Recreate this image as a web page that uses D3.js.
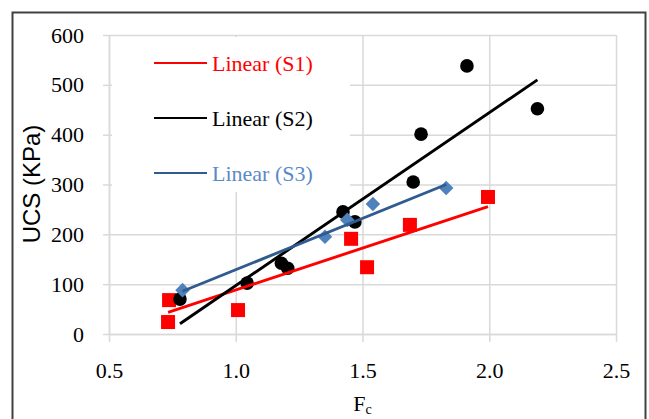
<!DOCTYPE html>
<html lang="en">
<head>
  <meta charset="UTF-8">
  <title>UCS vs Fc</title>
  <script src="https://cdn.jsdelivr.net/npm/d3@7"></script>
  <style>
    body { margin: 0; background: #fff; }
  </style>
</head>
<body>
  <script>
    // data
    const s1x = [0.733, 0.737, 1.009, 1.455, 1.518, 1.687, 1.995];
    const s1y = [24, 68, 48, 191, 134, 219, 275];
    const s2x = [0.78, 1.045, 1.18, 1.205, 1.423, 1.47, 1.70, 1.731, 1.912, 2.19];
    const s2y = [70, 102, 142, 132, 245, 225, 305, 401, 538, 452];
    const s3x = [0.79, 1.352, 1.44, 1.541, 1.83];
    const s3y = [88, 195, 229, 261, 293];

    // linear trendlines (slope, intercept) as shown on the chart
    const trendSlope = [167.8, 347, 206];
    const trendIntercept = [-79.4, -250, -77];

    const seriesNames = ["Linear (S1)", "Linear (S2)", "Linear (S3)"];
    const xTicks = [0.5, 1.0, 1.5, 2.0, 2.5];
    const yTicks = [0, 100, 200, 300, 400, 500, 600];

    const W = 649, H = 419;
    const mLeft = 109, mRight = 616, mTop = 35, mBottom = 334;
    const serif = "'Liberation Serif', 'Times New Roman', serif";

    const svg = d3.select("body").append("svg")
      .attr("width", W)
      .attr("height", H);

    svg.append("rect")
      .attr("x", 12.5).attr("y", 12.5)
      .attr("width", 633).attr("height", 430)
      .attr("fill", "#fff")
      .attr("stroke", "#404040")
      .attr("stroke-width", 2);

    const x = d3.scaleLinear().domain([0.5, 2.5]).range([mLeft, mRight]);
    const y = d3.scaleLinear().domain([0, 600]).range([mBottom, mTop]);

    // gridlines
    svg.append("g")
      .attr("transform", `translate(0,${mBottom})`)
      .call(d3.axisBottom(x).tickValues(xTicks).tickSize(-(mBottom - mTop)).tickFormat(""))
      .call(g => g.select(".domain").remove())
      .call(g => g.selectAll("line").attr("stroke", "#d9d9d9").attr("stroke-width", 1.5));
    svg.append("g")
      .attr("transform", `translate(${mLeft},0)`)
      .call(d3.axisLeft(y).tickValues(yTicks).tickSize(-(mRight - mLeft)).tickFormat(""))
      .call(g => g.select(".domain").remove())
      .call(g => g.selectAll("line").attr("stroke", "#d9d9d9").attr("stroke-width", 1.5));

    // axes
    const xAxis = svg.append("g")
      .attr("transform", `translate(0,${mBottom})`)
      .call(d3.axisBottom(x).tickValues(xTicks).tickSize(8).tickPadding(20).tickSizeOuter(0)
        .tickFormat(d3.format(".1f")));
    const yAxis = svg.append("g")
      .attr("transform", `translate(${mLeft},0)`)
      .call(d3.axisLeft(y).tickValues(yTicks).tickSize(6).tickPadding(19).tickSizeOuter(0));
    [xAxis, yAxis].forEach(a => {
      a.select(".domain").attr("stroke", "#d9d9d9").attr("stroke-width", 1.5);
      a.selectAll("line").attr("stroke", "#d9d9d9").attr("stroke-width", 1.5);
      a.selectAll("text")
        .attr("font-family", serif)
        .attr("font-size", 22)
        .attr("fill", "#000");
    });

    // legend box covers the grid
    svg.append("rect")
      .attr("x", 112).attr("y", 37)
      .attr("width", 238).attr("height", 155)
      .attr("fill", "#fff");

    // markers
    svg.append("g").selectAll("rect")
      .data(s1x.map((d, i) => [d, s1y[i]]))
      .join("rect")
      .attr("x", d => x(d[0]) - 7)
      .attr("y", d => y(d[1]) - 7)
      .attr("width", 14).attr("height", 14)
      .attr("fill", "#ff0000");

    svg.append("g").selectAll("circle")
      .data(s2x.map((d, i) => [d, s2y[i]]))
      .join("circle")
      .attr("cx", d => x(d[0]))
      .attr("cy", d => y(d[1]))
      .attr("r", 6.8)
      .attr("fill", "#000");

    const diamond = d3.symbol().type(d3.symbolDiamond2).size(135);
    svg.append("g").selectAll("path")
      .data(s3x.map((d, i) => [d, s3y[i]]))
      .join("path")
      .attr("d", diamond)
      .attr("transform", d => `translate(${x(d[0])},${y(d[1])})`)
      .attr("fill", "#4f81bd");

    // trendlines over the markers
    const lineColors = ["#ff0000", "#000000", "#2f5b8f"];
    const textColors = ["#ff0000", "#000000", "#5a8ac6"];
    const xs = [s1x, s2x, s3x];
    const line = d3.line().x(d => x(d[0])).y(d => y(d[1]));
    xs.forEach((arr, i) => {
      const ext = d3.extent(arr);
      svg.append("path")
        .attr("d", line(ext.map(v => [v, trendSlope[i] * v + trendIntercept[i]])))
        .attr("fill", "none")
        .attr("stroke", lineColors[i])
        .attr("stroke-width", 2.9);
    });

    // legend
    const legendY = [63, 118, 173];
    seriesNames.forEach((name, i) => {
      svg.append("line")
        .attr("x1", 154).attr("x2", 207)
        .attr("y1", legendY[i]).attr("y2", legendY[i])
        .attr("stroke", lineColors[i])
        .attr("stroke-width", 2);
      svg.append("text")
        .attr("x", 212).attr("y", legendY[i])
        .attr("dy", "0.35em")
        .attr("font-family", serif)
        .attr("font-size", 22)
        .attr("fill", textColors[i])
        .text(name);
    });

    // axis titles
    const xTitle = svg.append("text")
      .attr("x", (mLeft + mRight) / 2)
      .attr("y", 411)
      .attr("text-anchor", "middle")
      .attr("font-family", serif)
      .attr("font-size", 22)
      .attr("fill", "#000");
    xTitle.append("tspan").text("F");
    xTitle.append("tspan").attr("font-size", 14).attr("dy", 3).text("c");

    svg.append("text")
      .attr("transform", `translate(40,184) rotate(-90)`)
      .attr("text-anchor", "middle")
      .attr("font-family", "'Liberation Sans', Arial, sans-serif")
      .attr("font-size", 24)
      .attr("fill", "#000")
      .text("UCS (KPa)");
  </script>
</body>
</html>
